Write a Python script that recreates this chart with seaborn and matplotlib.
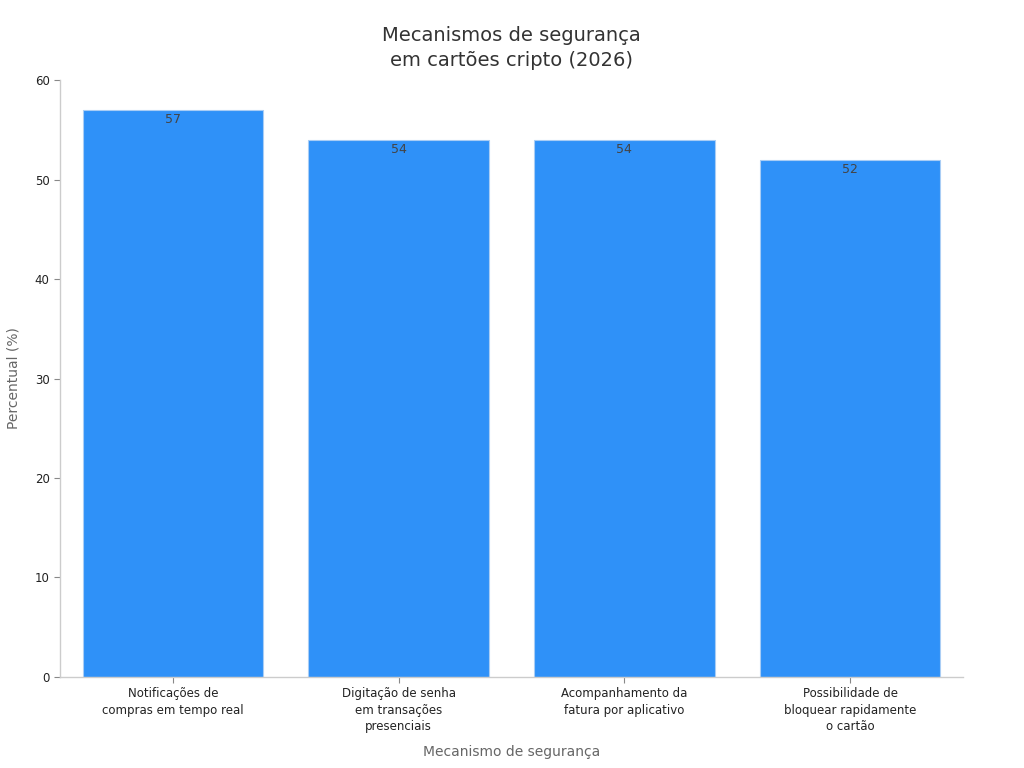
import matplotlib
matplotlib.use("Agg")
import matplotlib.pyplot as plt
import seaborn as sns
import pandas as pd

# Data
mecanismos = [
    "Notificações de\ncompras em tempo real",
    "Digitação de senha\nem transações\npresenciais",
    "Acompanhamento da\nfatura por aplicativo",
    "Possibilidade de\nbloquear rapidamente\no cartão",
]
percentuais = [57, 54, 54, 52]

df = pd.DataFrame({"mecanismo": mecanismos, "percentual": percentuais})

sns.set_style("white")
plt.rcParams["font.family"] = ["DejaVu Sans"]

fig = plt.figure(figsize=(10.24, 7.68), dpi=100)
ax = fig.add_axes([0.0586, 0.1185, 0.8818, 0.7773])

sns.barplot(data=df, x="mecanismo", y="percentual", color="#2f91f8",
            saturation=1, width=0.8, edgecolor="#a9cdf5", linewidth=0.8, ax=ax)

for i, v in enumerate(percentuais):
    ax.text(i, v - 0.35, f"{v}", ha="center", va="top", fontsize=9, color="#444444")

ax.set_ylim(0, 60)
ax.set_xlim(-0.5, 3.5)
ax.set_yticks([0, 10, 20, 30, 40, 50, 60])
ax.tick_params(axis="both", labelsize=8.5, colors="#222222", length=4,
               color="#888888", left=True, bottom=True)
for lbl in ax.get_xticklabels():
    lbl.set_linespacing(1.35)
ax.set_ylabel("Percentual (%)", fontsize=10, color="#666666", labelpad=10)
ax.set_xlabel("Mecanismo de segurança", fontsize=10, color="#666666", labelpad=8)
ax.set_title("Mecanismos de segurança\nem cartões cripto (2026)", fontsize=14,
             color="#333333", pad=10, linespacing=1.4)

for side in ["top", "right"]:
    ax.spines[side].set_visible(False)
for side in ["left", "bottom"]:
    ax.spines[side].set_color("#cccccc")
    ax.spines[side].set_linewidth(1)

fig.savefig("out.png", dpi=100)
